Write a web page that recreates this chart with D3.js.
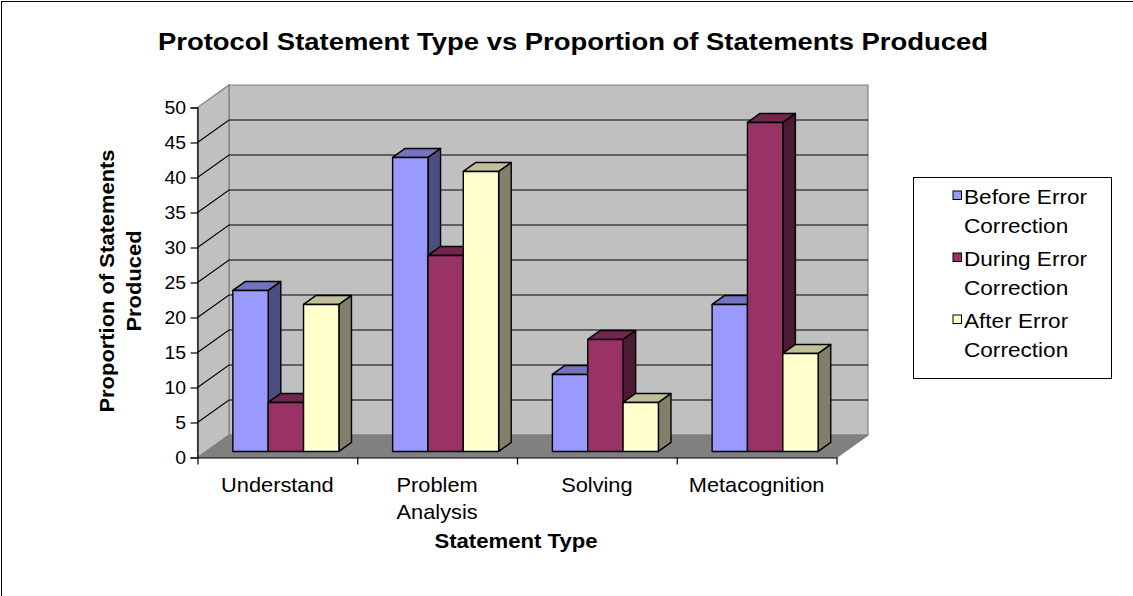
<!DOCTYPE html>
<html lang="en">
<head>
    <meta charset="UTF-8">
    <title>Protocol Statement Type vs Proportion of Statements Produced</title>
    <script src="https://d3js.org/d3.v7.min.js"></script>
    <style>
        body, html {
            margin: 0;
            padding: 0;
            background-color: #ffffff;
            overflow: hidden;
        }
        svg text {
            font-family: 'Liberation Sans', Arial, sans-serif;
            fill: #000;
        }
    </style>
</head>
<body>
<svg id="chart" width="1133" height="596"></svg>

<script>
    // Data
    const categories = ['Understand', 'Problem Analysis', 'Solving', 'Metacognition'];
    const categoryLines = [['Understand'], ['Problem', 'Analysis'], ['Solving'], ['Metacognition']];
    const seriesNames = ['Before Error Correction', 'During Error Correction', 'After Error Correction'];
    const legendLines = [['Before Error', 'Correction'], ['During Error', 'Correction'], ['After Error', 'Correction']];
    const beforeValues = [23, 42, 11, 21];
    const duringValues = [7, 28, 16, 47];
    const afterValues = [21, 40, 7, 14];
    const yTicks = [0, 5, 10, 15, 20, 25, 30, 35, 40, 45, 50];

    const seriesValues = [beforeValues, duringValues, afterValues];
    const colors = [
        { front: '#9999ff', top: '#7373bf', side: '#4d4d80' },
        { front: '#993366', top: '#73264d', side: '#4d1a33' },
        { front: '#ffffcc', top: '#bfbf99', side: '#80806a' }
    ];

    const svg = d3.select('#chart');

    // 3D layout
    const x0 = 197.5, x1 = 836.5;
    const depth = { dx: 31.5, dy: -22.5 };
    const y = d3.scaleLinear().domain([0, 50]).range([457.5, 107.5]);
    const xCat = d3.scaleBand().domain(categories).range([x0, x1]).padding(0);
    const xSeries = d3.scaleBand().domain(seriesNames).range([0, xCat.bandwidth()])
        .paddingInner(0).paddingOuter(0.76);
    const zFront = 0.27, zBack = 0.67;

    function proj(x, v, z) {
        return [x + z * depth.dx, y(v) + z * depth.dy];
    }
    function poly(pts) {
        return 'M' + pts.map(p => p.join(',')).join('L') + 'Z';
    }

    // text in the reference is slightly wider than tall, so scale along the text direction
    function label(parent, text, x, yy, opts) {
        opts = opts || {};
        const g = parent.append('g')
            .attr('transform', `translate(${x},${yy}) rotate(${opts.rotate || 0}) scale(${opts.sx || 1.1},1)`);
        g.append('text')
            .attr('text-anchor', opts.anchor || 'middle')
            .style('font-size', (opts.size || 17) + 'px')
            .style('font-weight', opts.bold ? 'bold' : 'normal')
            .text(text);
        return g;
    }

    // outer frame (only left/top edges fall inside the picture)
    svg.append('rect')
        .attr('x', 1.5).attr('y', 1.5)
        .attr('width', 1140).attr('height', 600)
        .attr('fill', 'none').attr('stroke', '#000').attr('stroke-width', 1);

    // title
    label(svg, 'Protocol Statement Type vs Proportion of Statements Produced', 573, 49.5, { size: 24.5, bold: true, sx: 1.12 });

    // walls and floor
    const walls = svg.append('g');
    walls.append('path')
        .attr('d', poly([proj(x0, 0, 1), proj(x1, 0, 1), proj(x1, 50, 1), proj(x0, 50, 1)]))
        .attr('fill', '#c0c0c0').attr('stroke', '#808080').attr('stroke-width', 1.2);
    walls.append('path')
        .attr('d', poly([proj(x0, 0, 0), proj(x0, 0, 1), proj(x0, 50, 1), proj(x0, 50, 0)]))
        .attr('fill', '#c0c0c0').attr('stroke', '#808080').attr('stroke-width', 1.2);
    walls.append('path')
        .attr('d', poly([proj(x0, 0, 0), proj(x1, 0, 0), proj(x1, 0, 1), proj(x0, 0, 1)]))
        .attr('fill', '#808080').attr('stroke', '#808080').attr('stroke-width', 1);

    // gridlines on both walls
    const grid = svg.append('g').attr('stroke', '#000').attr('stroke-width', 1.1).attr('fill', 'none');
    yTicks.filter(t => t > 0 && t < 50).forEach(t => {
        grid.append('path').attr('d', 'M' + proj(x0, t, 0) + 'L' + proj(x0, t, 1) + 'L' + proj(x1, t, 1));
    });

    // bars
    const bars = svg.append('g').attr('stroke', '#000').attr('stroke-width', 1.4).attr('stroke-linejoin', 'round');
    categories.forEach((cat, i) => {
        seriesNames.forEach((s, j) => {
            const v = seriesValues[j][i];
            const xl = xCat(cat) + xSeries(s);
            const xr = xl + xSeries.bandwidth();
            const c = colors[j];
            bars.append('path').attr('fill', c.side)
                .attr('d', poly([proj(xr, 0, zFront), proj(xr, 0, zBack), proj(xr, v, zBack), proj(xr, v, zFront)]));
            bars.append('path').attr('fill', c.top)
                .attr('d', poly([proj(xl, v, zFront), proj(xr, v, zFront), proj(xr, v, zBack), proj(xl, v, zBack)]));
            bars.append('path').attr('fill', c.front)
                .attr('d', poly([proj(xl, 0, zFront), proj(xr, 0, zFront), proj(xr, v, zFront), proj(xl, v, zFront)]));
        });
    });

    // floor right edge
    svg.append('path')
        .attr('d', 'M' + proj(x1, 0, 0) + 'L' + proj(x1, 0, 1))
        .attr('stroke', '#808080').attr('stroke-width', 1.2);

    // y axis
    const yAxisG = svg.append('g')
        .attr('transform', `translate(${x0},0)`)
        .call(d3.axisLeft(y).tickValues(yTicks).tickSize(7).tickFormat(''));
    yAxisG.selectAll('path, line').attr('stroke', '#000').attr('stroke-width', 1.2);
    yTicks.forEach(t => label(svg, String(t), 186, y(t) + 6.5, { size: 18, anchor: 'end', sx: 1.08 }));

    // x axis
    const xTickVals = categories.map(c => xCat(c)).concat([x1]);
    const xLin = d3.scaleLinear().domain([x0, x1]).range([x0, x1]);
    const xAxisG = svg.append('g')
        .attr('transform', `translate(0,${y(0)})`)
        .call(d3.axisBottom(xLin).tickValues(xTickVals).tickSize(7).tickSizeOuter(0).tickFormat(''));
    xAxisG.selectAll('path, line').attr('stroke', '#000').attr('stroke-width', 1.2);
    categories.forEach((cat, i) => {
        categoryLines[i].forEach((line, k) => {
            label(svg, line, xCat(cat) + xCat.bandwidth() / 2, 491.5 + k * 27.5, { size: 20, sx: 1.09 });
        });
    });

    // axis titles
    label(svg, 'Statement Type', 516, 548, { size: 20.5, bold: true, sx: 1.08 });
    label(svg, 'Proportion of Statements', 113.5, 281, { size: 20.5, bold: true, rotate: -90, sx: 1.07 });
    label(svg, 'Produced', 140.5, 281, { size: 20.5, bold: true, rotate: -90, sx: 1.07 });

    // legend
    const legend = svg.append('g');
    legend.append('rect')
        .attr('x', 913.5).attr('y', 177.5).attr('width', 198).attr('height', 201)
        .attr('fill', '#fff').attr('stroke', '#000').attr('stroke-width', 1);
    seriesNames.forEach((s, j) => {
        const base = 204 + j * 62;
        legend.append('rect')
            .attr('x', 953).attr('y', base - 13).attr('width', 8.5).attr('height', 8.5)
            .attr('fill', colors[j].front).attr('stroke', '#000').attr('stroke-width', 1);
        legendLines[j].forEach((line, k) => {
            label(legend, line, 964, base + k * 28.5, { size: 20, anchor: 'start', sx: 1.13 });
        });
    });
</script>
</body>
</html>
